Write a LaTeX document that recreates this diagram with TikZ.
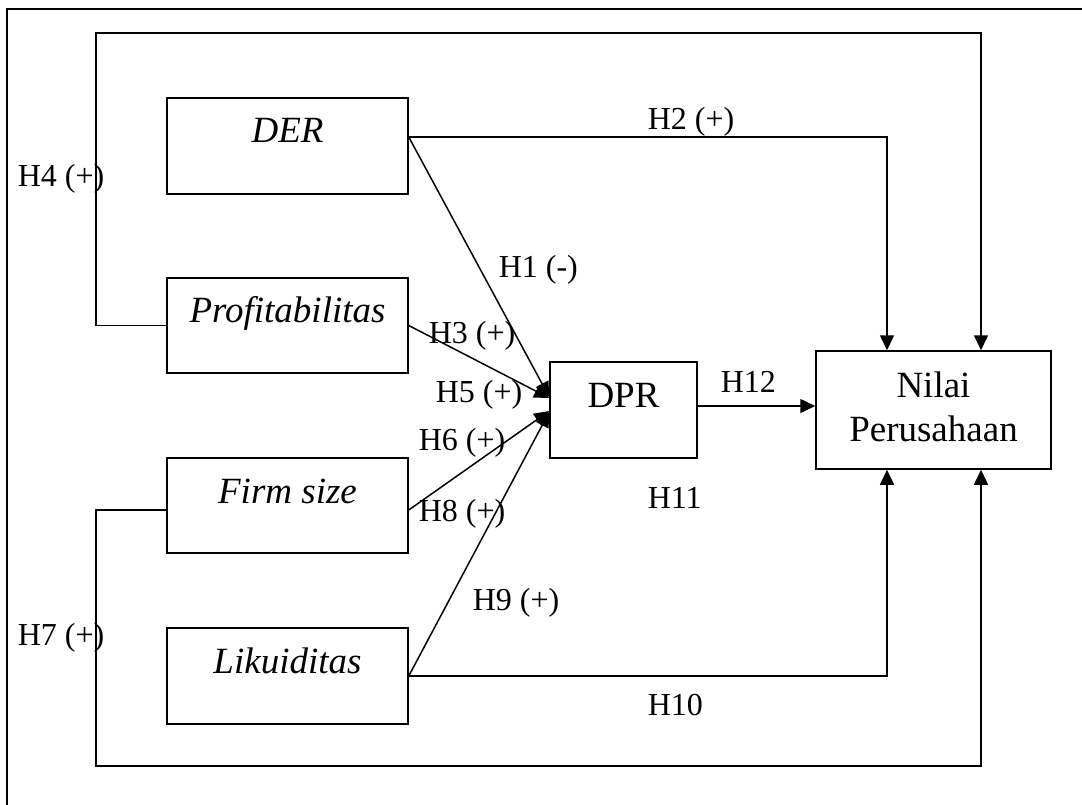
\documentclass[tikz,border=0pt]{standalone}
\usepackage{fontspec}
\setmainfont{Liberation Serif}
\usetikzlibrary{arrows.meta}
\begin{document}
\begin{tikzpicture}[x=1pt,y=-1pt,line width=1.5pt,
  box/.style={draw,inner sep=0pt,line width=1.5pt},
  boxtext/.style={font=\fontsize{37}{43}\selectfont\itshape,inner sep=0pt,anchor=base},
  plaintext/.style={font=\fontsize{37}{43}\selectfont,inner sep=0pt,anchor=base},
  hlab/.style={font=\fontsize{32}{38}\selectfont,inner sep=0pt,anchor=base west},
  arr/.style={-{Triangle[length=15pt,width=14pt]}},
]
\useasboundingbox (0,0) rectangle (1082,805);
% outer frame
\draw[line width=2pt] (7,805) -- (7,9) -- (1082,9);

% boxes
\node[box,minimum width=241pt,minimum height=96pt] (der) at (287.5,146) {};
\node[box,minimum width=241pt,minimum height=95pt] (prof) at (287.5,325.5) {};
\node[box,minimum width=241pt,minimum height=95pt] (firm) at (287.5,505.5) {};
\node[box,minimum width=241pt,minimum height=96pt] (likuid) at (287.5,676) {};
\node[box,minimum width=147pt,minimum height=96pt] (dpr) at (623.5,410) {};
\node[box,minimum width=235pt,minimum height=118pt] (nilai) at (933.5,410) {};

% box texts
\node[boxtext] (tder) at (287.5,143) {DER};
\node[boxtext] (tprof) at (287.5,322) {Profitabilitas};
\node[boxtext] (tfirm) at (287.5,503) {Firm size};
\node[boxtext] (tlik) at (287.5,673) {Likuiditas};
\node[plaintext] (tdpr) at (623.5,407) {DPR};
\node[plaintext] (tnil1) at (933.5,397) {Nilai};
\node[plaintext] (tnil2) at (933.5,441) {Perusahaan};

% loop coordinates
\coordinate (h4c) at (96,33);
\coordinate (h7c) at (96,766);

% connectors
\draw[arr] (prof.west) -| (h4c) -| ([xshift=47.5pt]nilai.north);
\draw[arr] ([yshift=9pt]der.east) -| ([xshift=-46.5pt]nilai.north);
\draw[arr] ([yshift=9pt]der.east) -- ([yshift=13pt]dpr.west);
\draw[arr] (prof.east) -- ([yshift=12pt]dpr.west);
\draw[arr] ([yshift=-4.5pt]firm.east) -- ([yshift=-1pt]dpr.west);
\draw[arr] (likuid.east) -- ([yshift=-2pt]dpr.west);
\draw[arr] ([yshift=4pt]dpr.east) -- ([yshift=4pt]nilai.west);
\draw[arr] (likuid.east) -| ([xshift=-46.5pt]nilai.south);
\draw[arr] ([yshift=-4.5pt]firm.west) -| (h7c) -| ([xshift=47.5pt]nilai.south);

% hypothesis labels
\node[hlab] (h4) at (17,187) {H4 (+)};
\node[hlab] (h7) at (17,645) {H7 (+)};
\node[hlab] (h2) at (647,130) {H2 (+)};
\node[hlab] (h1) at (498,277) {H1 (-)};
\node[hlab] (h3) at (428,343) {H3 (+)};
\node[hlab] (h5) at (435,402) {H5 (+)};
\node[hlab] (h6) at (418,450) {H6 (+)};
\node[hlab] (h8) at (418,521) {H8 (+)};
\node[hlab] (h11) at (647,508) {H11};
\node[hlab] (h12) at (720,392) {H12};
\node[hlab] (h9) at (472,610) {H9 (+)};
\node[hlab] (h10) at (647,715) {H10};
\end{tikzpicture}
\end{document}
